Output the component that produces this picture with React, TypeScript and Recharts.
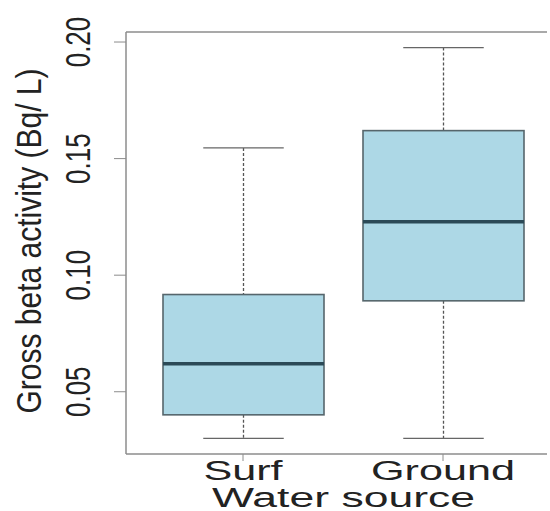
import { ComposedChart, Bar, XAxis, YAxis, Label, ReferenceLine } from 'recharts'

// Boxplot summary per water source
const categories = ['Surf', 'Ground']
const whiskerLow = [0.03, 0.03]
const quartile1 = [0.0401, 0.089]
const medians = [0.062, 0.1229]
const quartile3 = [0.0917, 0.162]
const whiskerHigh = [0.1546, 0.1976]
const yTicks = [0.05, 0.1, 0.15, 0.2]
const yDomain = [0.0233, 0.2043]

const data = categories.map((name, i) => ({
  name,
  range: [whiskerLow[i], whiskerHigh[i]],
  low: whiskerLow[i],
  q1: quartile1[i],
  median: medians[i],
  q3: quartile3[i],
  high: whiskerHigh[i],
}))

const FONT = '"Liberation Sans", Arial, sans-serif'
const FRAME = '#8c8c8c'

function BoxShape(props: any) {
  const { x, y, width, height, payload } = props
  const top = Math.min(y, y + height)
  const bottom = Math.max(y, y + height)
  const { low, q1, median, q3, high } = payload
  // map a value into the pixel span the bar scale gave us (low..high)
  const yOf = (v: number) => bottom - ((v - low) / (high - low)) * (bottom - top)
  const cx = x + width / 2
  const cap = width / 4
  return (
    <g>
      <line x1={cx} x2={cx} y1={yOf(high)} y2={yOf(q3)} stroke="#555" strokeWidth={1.3} strokeDasharray="3 2" />
      <line x1={cx} x2={cx} y1={yOf(q1)} y2={yOf(low)} stroke="#555" strokeWidth={1.3} strokeDasharray="3 2" />
      <line x1={cx - cap} x2={cx + cap} y1={yOf(high)} y2={yOf(high)} stroke="#666" strokeWidth={1.3} />
      <line x1={cx - cap} x2={cx + cap} y1={yOf(low)} y2={yOf(low)} stroke="#666" strokeWidth={1.3} />
      <rect
        x={x}
        y={yOf(q3)}
        width={width}
        height={yOf(q1) - yOf(q3)}
        fill="#add8e6"
        stroke="#56666c"
        strokeWidth={1.6}
      />
      <line x1={x} x2={x + width} y1={yOf(median)} y2={yOf(median)} stroke="#2b4a57" strokeWidth={3.5} />
    </g>
  )
}

function YTick(props: any) {
  const { x, y, payload } = props
  return (
    <text
      transform={`translate(${x - 22},${y}) scale(1.34,1) rotate(-90)`}
      textAnchor="middle"
      fontSize={26}
      fontFamily={FONT}
      fill="#222"
    >
      {Number(payload.value).toFixed(2)}
    </text>
  )
}

function XTick(props: any) {
  const { x, y, payload } = props
  return (
    <text
      transform={`translate(${x},${y + 17}) scale(1.6,1)`}
      textAnchor="middle"
      fontSize={27}
      fontFamily={FONT}
      fill="#222"
    >
      {payload.value}
    </text>
  )
}

export default function App() {
  return (
    <div style={{ position: 'absolute', left: 0, top: 0, background: '#fff' }}>
      <ComposedChart
        width={550}
        height={511}
        data={data}
        margin={{ top: 32, right: 3, bottom: 0, left: 0 }}
      >
        <XAxis
          dataKey="name"
          height={57}
          padding={{ left: 17, right: 4 }}
          tick={<XTick />}
          tickSize={7}
          tickLine={{ stroke: FRAME }}
          axisLine={{ stroke: FRAME, strokeWidth: 1.5 }}
          interval={0}
        >
          <Label
            content={(p: any) => {
              const vb = p.viewBox
              return (
                <text
                  transform={`translate(${vb.x + vb.width / 2 + 7},507) scale(1.65,1)`}
                  textAnchor="middle"
                  fontSize={27}
                  fontFamily={FONT}
                  fill="#222"
                >
                  Water source
                </text>
              )
            }}
          />
        </XAxis>
        <YAxis
          width={126}
          type="number"
          domain={yDomain}
          ticks={yTicks}
          allowDataOverflow
          tick={<YTick />}
          tickSize={12}
          tickLine={{ stroke: FRAME }}
          axisLine={{ stroke: FRAME, strokeWidth: 1.5 }}
        >
          <Label
            content={(p: any) => {
              const vb = p.viewBox
              return (
                <text
                  transform={`translate(41,${vb.y + vb.height / 2 - 2}) scale(1.19,1) rotate(-90)`}
                  textAnchor="middle"
                  fontSize={30}
                  fontFamily={FONT}
                  fill="#222"
                >
                  Gross beta activity (Bq/ L)
                </text>
              )
            }}
          />
        </YAxis>
        <YAxis yAxisId="right" orientation="right" width={0} domain={yDomain} tick={false} tickLine={false} axisLine={{ stroke: '#d8d8d8', strokeWidth: 1 }} />
        <ReferenceLine y={yDomain[1]} stroke={FRAME} strokeWidth={1.5} ifOverflow="visible" />
        <Bar dataKey="range" barSize={161} shape={<BoxShape />} isAnimationActive={false} />
      </ComposedChart>
    </div>
  )
}
